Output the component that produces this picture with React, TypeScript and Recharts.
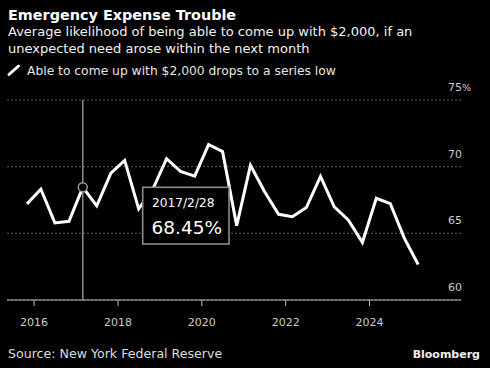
import { CartesianGrid, Line, LineChart, ReferenceDot, ReferenceLine, XAxis, YAxis } from "recharts";

const DATES = [
  "2015-10-31", "2016-02-29", "2016-06-30", "2016-10-31", "2017-02-28", "2017-06-30",
  "2017-10-31", "2018-02-28", "2018-06-30", "2018-10-31", "2019-02-28", "2019-06-30",
  "2019-10-31", "2020-02-29", "2020-06-30", "2020-10-31", "2021-02-28", "2021-06-30",
  "2021-10-31", "2022-02-28", "2022-06-30", "2022-10-31", "2023-02-28", "2023-06-30",
  "2023-10-31", "2024-02-29", "2024-06-30", "2024-10-31", "2025-02-28",
];
const LIKELIHOOD = [
  67.21, 68.31, 65.78, 65.9, 68.45, 67.06,
  69.52, 70.47, 66.83, 68.3, 70.6, 69.65,
  69.29, 71.66, 71.13, 65.58, 70.1, 68.14,
  66.43, 66.25, 66.93, 69.27, 66.99, 66.0,
  64.32, 67.63, 67.23, 64.62, 62.66,
];
const X_TICK_YEARS = [2016, 2018, 2020, 2022, 2024];
const Y_TICKS = [60, 65, 70, 75];
const HIGHLIGHT = 4;

const toTime = (d: string) => {
  const [y, m, day] = d.split("-").map(Number);
  return Date.UTC(y, m - 1, day);
};

const data = DATES.map((d, i) => ({ t: toTime(d), v: LIKELIHOOD[i] }));
const xTicks = X_TICK_YEARS.map((y) => Date.UTC(y, 0, 1));
const X_DOMAIN = [Date.UTC(2015, 4, 10), Date.UTC(2026, 2, 8)];

const FONT = "'DejaVu Sans', sans-serif";

function fmtDate(d: string) {
  const [y, m, day] = d.split("-").map(Number);
  return `${y}/${m}/${day}`;
}

// labels sit just above their gridline, right-aligned at the plot edge
function renderYTick(props: any) {
  const { y, payload } = props;
  const right = 462;
  const isTop = payload.value === Y_TICKS[Y_TICKS.length - 1];
  return (
    <g key={`yt-${payload.value}`}>
      <text x={right} y={y - 9} textAnchor="end" fill="#cccccc" fontSize={11} fontFamily={FONT}>
        {payload.value}
      </text>
      {isTop && (
        <text x={right} y={y - 9} textAnchor="start" fill="#cccccc" fontSize={9.5} fontFamily={FONT}>
          %
        </text>
      )}
    </g>
  );
}

export default function App() {
  const hl = data[HIGHLIGHT];
  return (
    <div style={{ position: "relative", width: 490, height: 368, background: "#000", overflow: "hidden" }}>
      <style>{`body{margin:0;background:#000}`}</style>
      <LineChart
        width={490}
        height={368}
        data={data}
        margin={{ top: 100, right: 0, bottom: 0, left: 7 }}
        style={{ position: "absolute", left: 0, top: 0 }}
      >
        <CartesianGrid horizontal vertical={false} stroke="#5e5e5e" strokeDasharray="2 2" />
        <XAxis
          dataKey="t"
          type="number"
          scale="time"
          domain={X_DOMAIN}
          ticks={xTicks}
          tickFormatter={(t: number) => String(new Date(t).getUTCFullYear())}
          height={68}
          stroke="#bbbbbb"
          tick={{ fill: "#cccccc", fontSize: 11, fontFamily: FONT }}
          tickSize={6}
          tickMargin={12}
        />
        <YAxis
          orientation="right"
          domain={[60, 75]}
          ticks={Y_TICKS}
          width={29}
          axisLine={false}
          tickLine={false}
          tick={renderYTick}
        />
        <ReferenceLine x={hl.t} stroke="#8c8c8c" strokeWidth={1.5} />
        <Line
          type="linear"
          dataKey="v"
          stroke="#ffffff"
          strokeWidth={3}
          dot={false}
          activeDot={false}
          isAnimationActive={false}
        />
        <ReferenceDot x={hl.t} y={hl.v} r={4.5} fill="#000" stroke="#9a9a9a" strokeWidth={1.5} />
      </LineChart>
      <svg
        width={490}
        height={368}
        style={{ position: "absolute", left: 0, top: 0, pointerEvents: "none" }}
      >
        <text x={8} y={20} fill="#ffffff" fontSize={14.4} fontWeight="bold" fontFamily={FONT}>
          Emergency Expense Trouble
        </text>
        <text x={8} y={35.7} fill="#f2f2f2" fontSize={13} fontFamily={FONT}>
          Average likelihood of being able to come up with $2,000, if an
        </text>
        <text x={8} y={53.3} fill="#f2f2f2" fontSize={13} fontFamily={FONT}>
          unexpected need arose within the next month
        </text>
        <line x1={9} y1={74.5} x2={18.5} y2={66} stroke="#fff" strokeWidth={3} strokeLinecap="round" />
        <text x={27} y={75} fill="#e6e6e6" fontSize={12.3} fontFamily={FONT}>
          Able to come up with $2,000 drops to a series low
        </text>

        <rect x={142.7} y={187.3} width={86.3} height={56.7} fill="#000" stroke="#8c8c8c" strokeWidth={1.6} />
        <text x={152} y={206.5} fill="#ffffff" fontSize={12.2} fontFamily={FONT}>
          {fmtDate(DATES[HIGHLIGHT])}
        </text>
        <text x={151.5} y={233.5} fill="#ffffff" fontSize={18.5} fontFamily={FONT}>
          {`${LIKELIHOOD[HIGHLIGHT].toFixed(2)}%`}
        </text>

        <text x={8} y={358.3} fill="#dddddd" fontSize={12.6} fontFamily={FONT}>
          Source: New York Federal Reserve
        </text>
        <text x={480} y={358} textAnchor="end" fill="#eeeeee" fontSize={11} fontWeight="bold" fontFamily={FONT}>
          Bloomberg
        </text>
      </svg>
    </div>
  );
}
